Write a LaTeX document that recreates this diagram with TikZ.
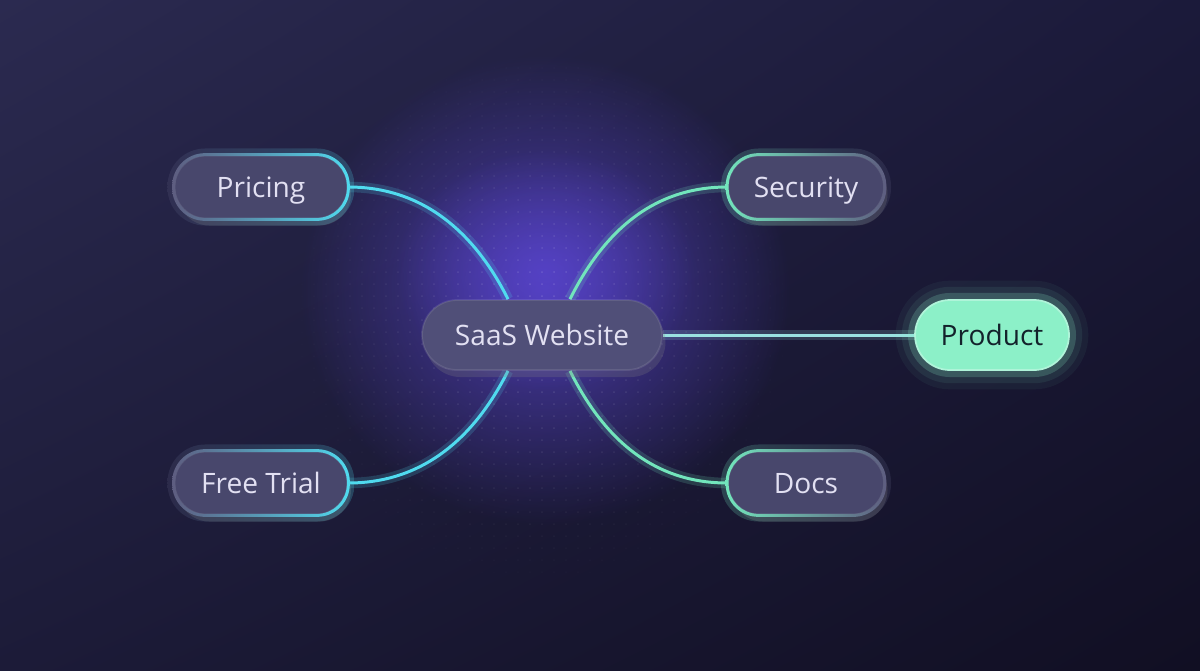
\documentclass[tikz,border=0pt]{standalone}
\usepackage{fontspec}
\setmainfont{Open Sans}
\usepackage{tikz}
\usetikzlibrary{positioning,shapes.misc,shadows,shadings,fadings,calc}
\definecolor{bgul}{HTML}{2B2A50}
\definecolor{bgur}{HTML}{1B1A3A}
\definecolor{bgll}{HTML}{1C1B38}
\definecolor{bglr}{HTML}{110F23}
\definecolor{halo}{HTML}{5B46D4}
\definecolor{pill}{HTML}{48476C}
\definecolor{hubfill}{HTML}{504F78}
\definecolor{pilltext}{HTML}{E2E0F2}
\definecolor{rimfaint}{HTML}{5E5D80}
\definecolor{cyanline}{HTML}{50DBEF}
\definecolor{mintline}{HTML}{72E5BC}
\definecolor{prodline}{HTML}{9AE2E0}
\definecolor{prodfill}{HTML}{8CF0C8}
\definecolor{prodtext}{HTML}{13222B}
\tikzfading[name=halofade, inner color=transparent!0, outer color=transparent!100]
\pgfdeclarelayer{bgl}
\pgfdeclarelayer{edges}
\pgfsetlayers{bgl,edges,main}

\begin{document}
\begin{tikzpicture}[x=0.02cm, y=-0.02cm,
  pillbox/.style={rounded rectangle, inner sep=0pt, fill=pill, text=pilltext,
    font=\fontsize{16}{19}\selectfont, text height=11.4pt, text depth=0pt,
    minimum height=1.26cm, minimum width=3.46cm,
    draw=white, draw opacity=0.10, line width=1pt,
    drop shadow={shadow xshift=2pt, shadow yshift=-4pt, opacity=0.25}},
  smallbox/.style={pillbox, minimum width=3.12cm},
  hub/.style={pillbox, fill=hubfill, minimum width=4.8cm, minimum height=1.4cm},
  hot/.style={rounded rectangle, inner sep=0pt, fill=prodfill, text=prodtext,
    font=\fontsize{16}{19}\selectfont, text height=11.4pt, text depth=0pt,
    minimum height=1.4cm, minimum width=3.08cm,
    draw=prodfill!70!white, line width=1pt,
    preaction={draw=prodfill, line width=22pt, draw opacity=0.05},
    preaction={draw=prodfill, line width=15pt, draw opacity=0.08},
    preaction={draw=prodfill, line width=8pt, draw opacity=0.20}},
  link/.style={draw=#1, line width=1.7pt,
    preaction={draw=#1, line width=6pt, draw opacity=0.18}}]
\useasboundingbox (0,0) rectangle (1200,670);
% background
\begin{pgfonlayer}{bgl}
\shade[upper left=bgul, upper right=bgur, lower left=bgll, lower right=bglr]
  (0,0) rectangle (1200,670);
\fill[halo, opacity=0.75, path fading=halofade] (545,290) ellipse (245 and 235);
\fill[halo, opacity=0.65, path fading=halofade] (545,270) ellipse (150 and 120);
% dots
\foreach \i in {0,...,40} {
  \foreach \j in {0,...,46} {
    \pgfmathsetmacro\px{302+12*\i}
    \pgfmathsetmacro\py{44+12*\j}
    \pgfmathsetmacro\op{max(0,0.16*(1-sqrt(((\px-542)/260)^2+((\py-320)/280)^2)))}
    \fill[white, opacity=\op] (\px,\py) circle (1);
  }
}
\end{pgfonlayer}
% nodes
\node[hub] (site) at (542,335) {SaaS Website};
\node[pillbox] (price) at (261,187) {Pricing};
\node[pillbox] (trial) at (261,483) {Free Trial};
\node[smallbox] (sec) at (806,187) {Security};
\node[smallbox] (docs) at (806,483) {Docs};
\node[hot] (prod) at (992,335) {Product};
% glowing rims
\foreach \n/\lc/\mc/\rc in {price/rimfaint/cyanline/cyanline, trial/rimfaint/cyanline/cyanline,
    sec/mintline/mintline/rimfaint, docs/mintline/mintline/rimfaint} {
  \coordinate (\n-sw) at (\n.west |- \n.south);
  \coordinate (\n-ne) at (\n.east |- \n.north);
  \shade[left color=\lc, middle color=\mc, right color=\rc, even odd rule, opacity=0.22]
    [rounded corners=21.4pt] ([shift={(-3.5pt,-3.5pt)}]\n-sw) rectangle ([shift={(3.5pt,3.5pt)}]\n-ne)
    [rounded corners=17.86pt] (\n-sw) rectangle (\n-ne);
  \shade[left color=\lc, middle color=\mc, right color=\rc, even odd rule]
    [rounded corners=18.7pt] ([shift={(-0.85pt,-0.85pt)}]\n-sw) rectangle ([shift={(0.85pt,0.85pt)}]\n-ne)
    [rounded corners=17pt] ([shift={(0.85pt,0.85pt)}]\n-sw) rectangle ([shift={(-0.85pt,-0.85pt)}]\n-ne);
}
% connectors
\begin{pgfonlayer}{edges}
\draw[link=cyanline] (price.east) .. controls +(80,0) and +(-30,-60) .. ([xshift=-0.68cm]site.north);
\draw[link=cyanline] (trial.east) .. controls +(80,0) and +(-30,60) .. ([xshift=-0.68cm]site.south);
\draw[link=mintline] (sec.west) .. controls +(-80,0) and +(30,-60) .. ([xshift=0.56cm]site.north);
\draw[link=mintline] (docs.west) .. controls +(-80,0) and +(30,60) .. ([xshift=0.56cm]site.south);
\draw[link=prodline] (site.east) -- (prod.west);
\end{pgfonlayer}
\end{tikzpicture}
\end{document}
